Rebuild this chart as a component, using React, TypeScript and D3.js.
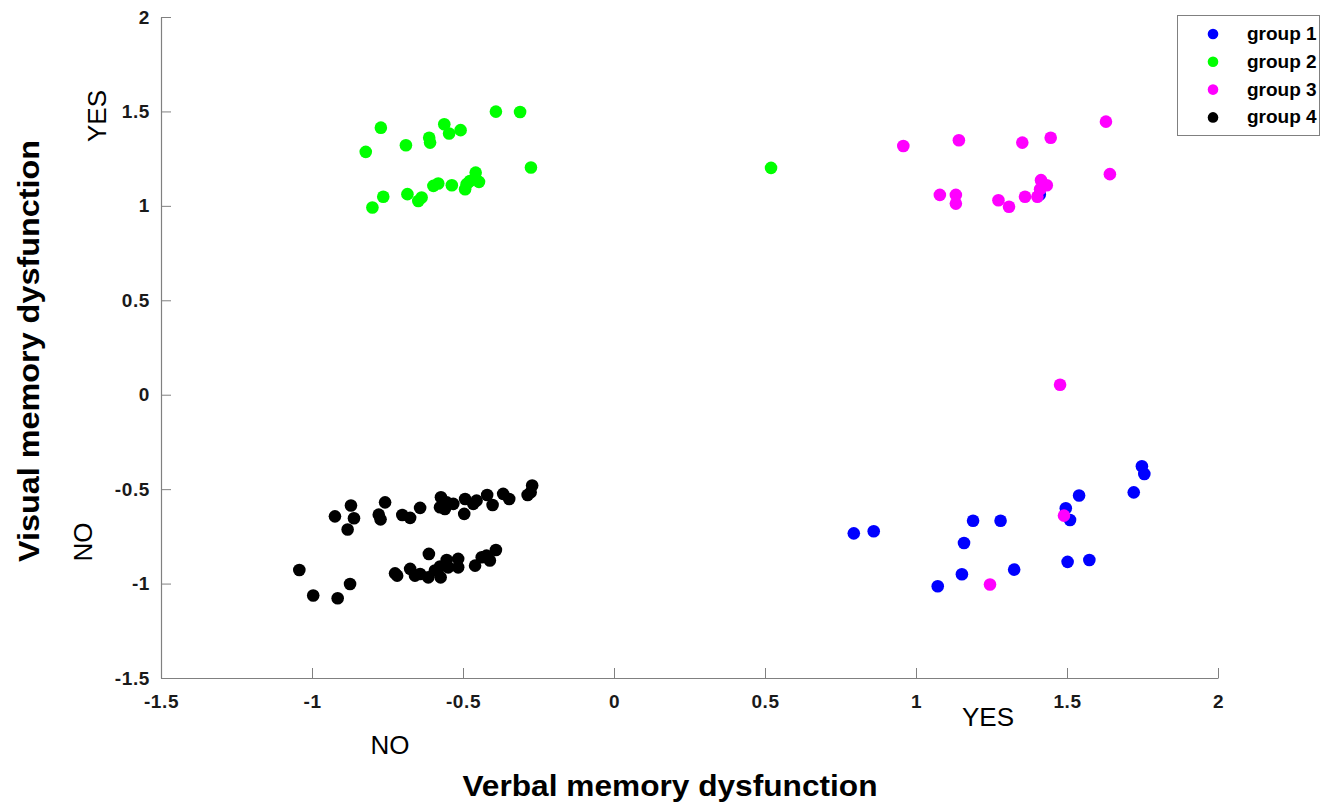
import React, { useEffect, useRef } from 'react';
import * as d3 from 'd3';

const groupNames = ['group 1', 'group 2', 'group 3', 'group 4'];
const groupColors = ['#0000ff', '#00ff00', '#ff00ff', '#000000'];

// [verbal, visual]
const group1: [number, number][] = [
  [1.41, 1.06], [0.794, -0.734], [0.86, -0.723], [1.072, -1.014], [1.152, -0.951],
  [1.159, -0.785], [1.189, -0.667], [1.28, -0.667], [1.325, -0.926], [1.496, -0.601],
  [1.51, -0.663], [1.502, -0.885], [1.54, -0.534], [1.574, -0.875], [1.721, -0.517],
  [1.748, -0.379], [1.756, -0.42],
];
const group2: [number, number][] = [
  [-0.822, 1.286], [-0.772, 1.414], [-0.8, 0.991], [-0.764, 1.048], [-0.689, 1.321],
  [-0.684, 1.062], [-0.648, 1.026], [-0.637, 1.044], [-0.612, 1.361], [-0.609, 1.335],
  [-0.598, 1.106], [-0.582, 1.118], [-0.562, 1.432], [-0.546, 1.383], [-0.537, 1.109],
  [-0.508, 1.401], [-0.493, 1.088], [-0.488, 1.115], [-0.477, 1.132], [-0.458, 1.176],
  [-0.447, 1.127], [-0.391, 1.499], [-0.311, 1.497], [-0.275, 1.203], [0.52, 1.201],
];
const group3: [number, number][] = [
  [0.958, 1.317], [1.142, 1.347], [1.079, 1.058], [1.132, 1.058], [1.132, 1.012],
  [1.273, 1.03], [1.308, 0.995], [1.352, 1.335], [1.361, 1.048], [1.402, 1.048],
  [1.414, 1.136], [1.433, 1.109], [1.411, 1.088], [1.446, 1.361], [1.629, 1.446],
  [1.642, 1.168], [1.477, 0.053], [1.49, -0.64], [1.245, -1.005],
];
const group4: [number, number][] = [
  [-0.924, -0.644], [-0.871, -0.587], [-0.861, -0.654], [-0.882, -0.714], [-0.779, -0.635],
  [-0.773, -0.66], [-0.758, -0.57], [-0.701, -0.637], [-0.675, -0.652], [-0.642, -0.599],
  [-0.573, -0.543], [-0.576, -0.596], [-0.554, -0.57], [-0.56, -0.605], [-0.532, -0.578],
  [-0.493, -0.552], [-0.496, -0.631], [-0.466, -0.578], [-0.455, -0.561], [-0.42, -0.531],
  [-0.402, -0.584], [-0.367, -0.525], [-0.347, -0.552], [-0.286, -0.531], [-0.271, -0.481],
  [-0.276, -0.517],
  [-1.042, -0.928], [-0.996, -1.063], [-0.915, -1.078], [-0.874, -1.002], [-0.725, -0.946],
  [-0.718, -0.958], [-0.675, -0.922], [-0.659, -0.958], [-0.642, -0.949], [-0.613, -0.843],
  [-0.615, -0.967], [-0.593, -0.931], [-0.574, -0.967], [-0.576, -0.91], [-0.554, -0.875],
  [-0.549, -0.914], [-0.516, -0.869], [-0.516, -0.914], [-0.46, -0.905], [-0.438, -0.861],
  [-0.422, -0.852], [-0.411, -0.878], [-0.391, -0.822],
];
const groups = [group1, group2, group3, group4];

const xTicks = [-1.5, -1, -0.5, 0, 0.5, 1, 1.5, 2];
const yTicks = [-1.5, -1, -0.5, 0, 0.5, 1, 1.5, 2];
// plain hyphen minus like the original figure
const fmtTick = (d: d3.NumberValue) => String(+d);

const FONT = '"Liberation Sans", Arial, Helvetica, sans-serif';

const App: React.FC = () => {
  const svgRef = useRef<SVGSVGElement | null>(null);

  useEffect(() => {
    const width = 1322;
    const height = 803;
    const svg = d3.select(svgRef.current);
    svg.selectAll('*').remove();

    const margin = { top: 17, right: 104, bottom: 125, left: 161 };
    const x = d3.scaleLinear().domain([-1.5, 2]).range([margin.left, width - margin.right]);
    const y = d3.scaleLinear().domain([-1.5, 2]).range([height - margin.bottom, margin.top]);

    const axisColor = '#808080';
    const tickColor = '#1a1a1a';

    const styleAxis = (g: d3.Selection<SVGGElement, unknown, null, undefined>) => {
      g.select('.domain').attr('stroke', axisColor).attr('stroke-width', 1.2);
      g.selectAll('.tick line').attr('stroke', axisColor);
      g.selectAll('.tick text')
        .attr('fill', tickColor)
        .attr('letter-spacing', 0.6)
        .style('font-family', FONT)
        .style('font-weight', '700')
        .style('font-size', '19px');
    };

    // X axis
    const gx = svg.append('g')
      .attr('transform', `translate(0,${y(-1.5)})`)
      .call(d3.axisBottom(x).tickValues(xTicks).tickSizeInner(-10).tickSizeOuter(0).tickPadding(17)
        .tickFormat(fmtTick));
    styleAxis(gx as any);

    // Y axis
    const gy = svg.append('g')
      .attr('transform', `translate(${x(-1.5)},0)`)
      .call(d3.axisLeft(y).tickValues(yTicks).tickSizeInner(-10).tickSizeOuter(0).tickPadding(11)
        .tickFormat(fmtTick));
    styleAxis(gy as any);

    // points
    groups.forEach((pts, i) => {
      svg.append('g')
        .selectAll('circle')
        .data(pts)
        .join('circle')
        .attr('cx', d => x(d[0]))
        .attr('cy', d => y(d[1]))
        .attr('r', 6.3)
        .attr('fill', groupColors[i]);
    });

    // axis titles
    svg.append('text')
      .attr('x', 670)
      .attr('y', 796)
      .attr('text-anchor', 'middle')
      .attr('textLength', 415)
      .attr('lengthAdjust', 'spacingAndGlyphs')
      .style('font-family', FONT)
      .style('font-weight', 'bold')
      .style('font-size', '29px')
      .text('Verbal memory dysfunction');

    svg.append('text')
      .attr('transform', 'translate(39,351) rotate(-90)')
      .attr('text-anchor', 'middle')
      .attr('textLength', 422)
      .attr('lengthAdjust', 'spacingAndGlyphs')
      .style('font-family', FONT)
      .style('font-weight', 'bold')
      .style('font-size', '29px')
      .text('Visual memory dysfunction');

    // NO / YES annotations
    const note = (tx: number, ty: number, s: string, rot = false) => {
      svg.append('text')
        .attr('transform', `translate(${tx},${ty})${rot ? ' rotate(-90)' : ''}`)
        .attr('text-anchor', 'middle')
        .style('font-family', FONT)
        .style('font-size', '26px')
        .text(s);
    };
    note(390, 754, 'NO');
    note(988, 726, 'YES');
    note(106, 116, 'YES', true);
    note(92, 542, 'NO', true);

    // legend
    const lg = svg.append('g');
    lg.append('rect')
      .attr('x', 1177.5)
      .attr('y', 15.5)
      .attr('width', 142)
      .attr('height', 120)
      .attr('fill', '#fff')
      .attr('stroke', '#808080');
    groupNames.forEach((name, i) => {
      const cy = 34 + i * 27.8;
      lg.append('circle').attr('cx', 1213).attr('cy', cy).attr('r', 5.3).attr('fill', groupColors[i]);
      lg.append('text')
        .attr('x', 1247)
        .attr('y', cy + 6)
        .style('font-family', FONT)
        .style('font-weight', 'bold')
        .style('font-size', '19px')
        .text(name);
    });
  }, []);

  return (
    <div style={{ position: 'absolute', left: 0, top: 0 }}>
      <svg ref={svgRef} width={1322} height={803} style={{ display: 'block', background: '#fff' }} />
    </div>
  );
};

export default App;
